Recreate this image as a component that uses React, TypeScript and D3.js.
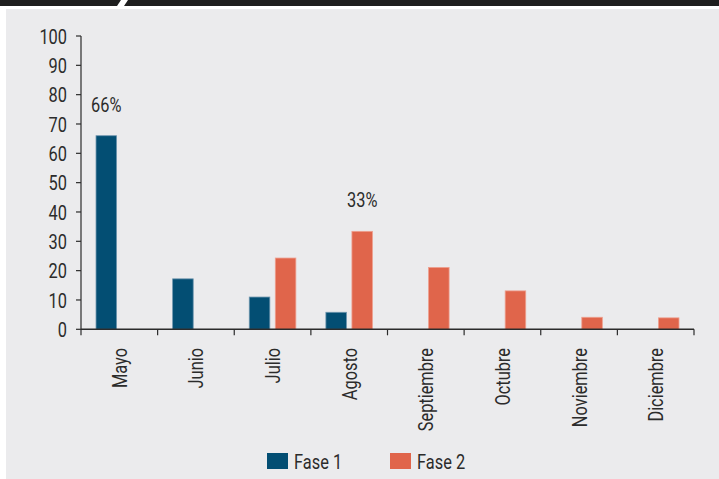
import React from "react";
import * as d3 from "d3";

const months = ["Mayo", "Junio", "Julio", "Agosto", "Septiembre", "Octubre", "Noviembre", "Diciembre"];
const fase1 = [66, 17.2, 11, 5.8, 0, 0, 0, 0];
const fase2 = [0, 0, 24.3, 33.4, 21.1, 13.1, 4.1, 3.9];
const seriesNames = ["Fase 1", "Fase 2"];
const yTicks = [0, 10, 20, 30, 40, 50, 60, 70, 80, 90, 100];
const annotations = [
  { month: "Mayo", series: 0, text: "66%" },
  { month: "Agosto", series: 1, text: "33%" },
];

const W = 719;
const H = 479;
const FONT = "Roboto, 'Liberation Sans', sans-serif";
const SX = 0.78;
const FS = 21;
const COLORS = ["#034e73", "#e0654b"];
const STROKES = ["#6d95ae", "#eea08f"];
const TEXT = "#2b2b2b";

export default function App() {
  const x = d3.scaleBand<string>().domain(months).range([81, 694]).paddingInner(0).paddingOuter(0);
  const sub = d3.scaleBand<number>().domain([0, 1]).range([0, x.bandwidth()]).paddingOuter(0.577).paddingInner(0.21);
  const y = d3.scaleLinear().domain([0, 100]).range([329.3, 36]);
  const data = months.map((m, i) => ({ m, vals: [fase1[i], fase2[i]] }));

  return (
    <svg width={W} height={H} style={{ position: "absolute", left: 0, top: 0 }} fontFamily={FONT}>
      <rect x={0} y={0} width={W} height={H} fill="#ffffff" />
      <rect x={6} y={9} width={W - 6} height={H - 9} fill="#ebebed" />
      <polygon points={`0,0 121,0 117,6 0,6`} fill="#1e1e1e" />
      <polygon points={`128,0 ${W},0 ${W},6 124,6`} fill="#1e1e1e" />

      {/* Y axis */}
      <line x1={81} x2={81} y1={y(100)} y2={y(0)} stroke={TEXT} strokeWidth={1.2} />
      {yTicks.map((t) => (
        <g key={t}>
          <line x1={76} x2={81} y1={y(t)} y2={y(t)} stroke={TEXT} strokeWidth={1.2} />
          <text
            transform={`translate(67,${y(t)}) scale(${SX},1)`}
            dy="0.36em"
            textAnchor="end"
            fontSize={FS}
            fill={TEXT}
          >
            {t}
          </text>
        </g>
      ))}

      {/* Bars */}
      {data.map((d) =>
        d.vals.map((v, s) =>
          v > 0 ? (
            <rect
              key={d.m + s}
              x={(x(d.m) as number) + (sub(s) as number)}
              y={y(v)}
              width={sub.bandwidth()}
              height={y(0) - y(v)}
              fill={COLORS[s]}
              stroke={STROKES[s]}
              strokeWidth={0.8}
            />
          ) : null
        )
      )}

      {/* X axis */}
      <line x1={81} x2={694} y1={y(0)} y2={y(0)} stroke={TEXT} strokeWidth={1.4} />
      {[...months.map((m) => x(m) as number), 694].map((px, i) => (
        <line key={i} x1={px} x2={px} y1={y(0)} y2={y(0) + 6} stroke={TEXT} strokeWidth={1.2} />
      ))}
      {months.map((m) => {
        const cx = (x(m) as number) + x.bandwidth() / 2;
        return (
          <text
            key={m}
            transform={`translate(${cx},348) rotate(-90) scale(${SX},1)`}
            textAnchor="end"
            dy="0.36em"
            fontSize={FS}
            fill={TEXT}
          >
            {m}
          </text>
        );
      })}

      {/* Annotations */}
      {annotations.map((a) => {
        const i = months.indexOf(a.month);
        const v = a.series === 0 ? fase1[i] : fase2[i];
        const cx = (x(a.month) as number) + (sub(a.series) as number) + sub.bandwidth() / 2;
        return (
          <text
            key={a.text}
            transform={`translate(${cx},${y(v) - 24}) scale(${SX},1)`}
            textAnchor="middle"
            fontSize={FS}
            fill={TEXT}
          >
            {a.text}
          </text>
        );
      })}

      {/* Legend */}
      {seriesNames.map((n, i) => (
        <g key={n} transform={`translate(${267 + i * 123},453)`}>
          <rect x={0} y={0} width={21} height={16} fill={COLORS[i]} />
          <text transform={`translate(27,15.5) scale(${SX},1)`} fontSize={FS} fill={TEXT}>
            {n}
          </text>
        </g>
      ))}
    </svg>
  );
}
